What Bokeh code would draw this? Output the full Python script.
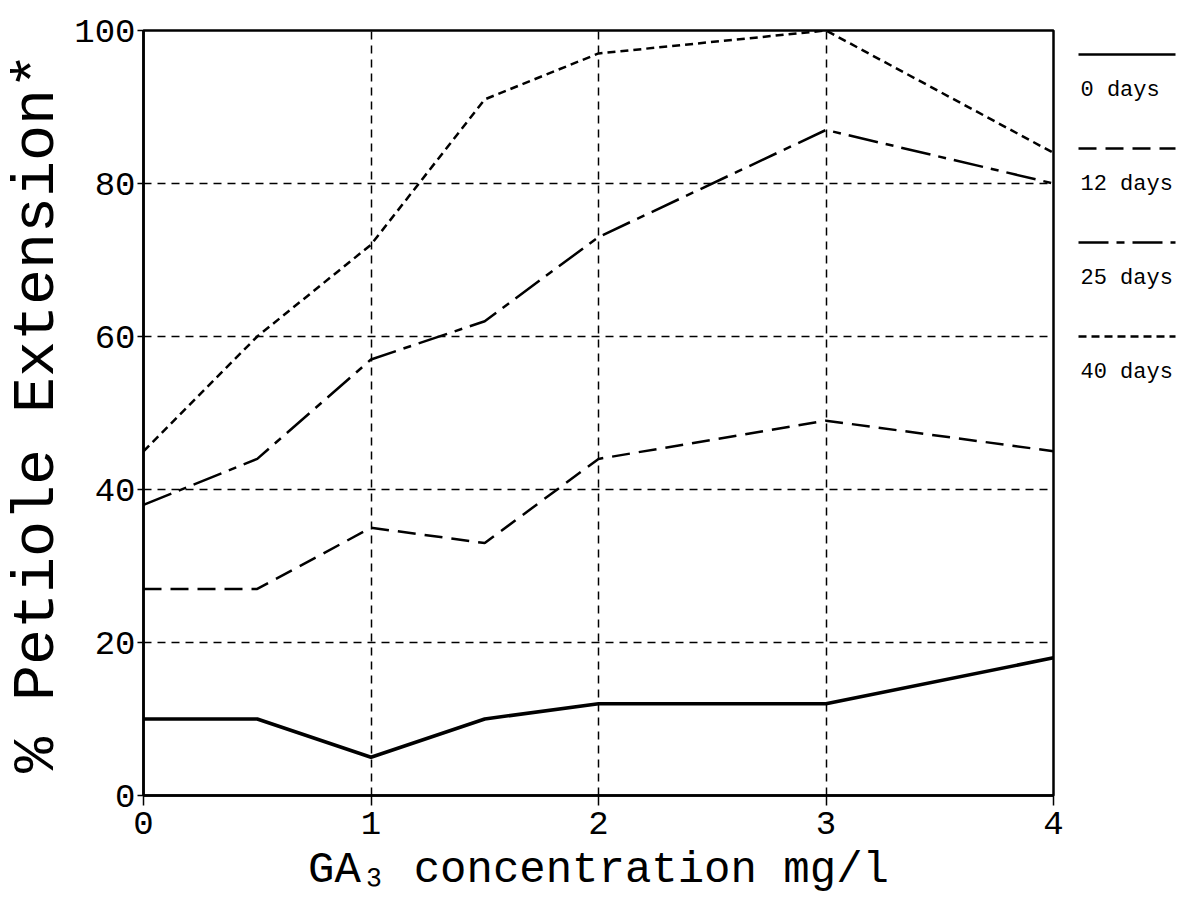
from bokeh.plotting import figure
from bokeh.layouts import row
from bokeh.models import Range1d, FixedTicker
from bokeh.core.properties import value
from bokeh.embed import file_html
from bokeh.resources import INLINE

# ---- data ----
ga3_conc = [0, 0.5, 1, 1.5, 2, 3, 4]
days_0 = [10, 10, 5, 10, 12, 12, 18]
days_12 = [27, 27, 35, 33, 44, 49, 45]
days_25 = [38, 44, 57, 62, 73, 87, 80]
days_40 = [45, 60, 72, 91, 97, 100, 84]
series_labels = ["0 days", "12 days", "25 days", "40 days"]
x_ticks = [0, 1, 2, 3, 4]
y_ticks = [0, 20, 40, 60, 80, 100]

FONT = "Liberation Mono"
styles = [
    dict(line_dash="solid", line_width=3.5),
    dict(line_dash="18 9", line_width=2.5),
    dict(line_dash="30 8 8 8", line_width=2.5),
    dict(line_dash="8 5", line_width=2.5),
]

TOTAL_W, H = 1180, 898
FRAME_L, FRAME_R, FRAME_T, FRAME_B = 142, 1053, 30, 795
MAIN_W = FRAME_R + 14

p = figure(width=MAIN_W, height=H, output_backend="svg", toolbar_location=None,
           x_range=Range1d(0, 4), y_range=Range1d(0, 100),
           min_border_left=FRAME_L, min_border_right=MAIN_W - FRAME_R,
           min_border_top=FRAME_T, min_border_bottom=H - FRAME_B)
p.background_fill_color = "white"
p.border_fill_color = "white"
p.outline_line_color = "black"
p.outline_line_width = 2.5

for ys, st in zip([days_0, days_12, days_25, days_40], styles):
    p.line(ga3_conc, ys, line_color="black", **st)

p.xaxis.ticker = FixedTicker(ticks=x_ticks)
p.yaxis.ticker = FixedTicker(ticks=y_ticks)
for ax in (p.xaxis, p.yaxis):
    ax.axis_line_color = "black"
    ax.axis_line_width = 2.5
    ax.major_tick_line_color = "black"
    ax.major_tick_line_width = 1.5
    ax.major_tick_in = 0
    ax.minor_tick_line_color = None
    ax.major_label_text_font = FONT
    ax.major_label_text_font_size = "34px"
    ax.major_label_text_color = "black"
    ax.axis_label_text_font = FONT
    ax.axis_label_text_font_style = "normal"
    ax.axis_label_text_color = "black"

p.xaxis.major_tick_out = 10
p.xaxis.major_label_standoff = 6
p.xaxis.axis_label_standoff = 8
p.yaxis.major_tick_out = 6
p.yaxis.major_label_standoff = 2
p.yaxis.axis_label_standoff = 0

p.xaxis.axis_label = "GA\u2083 concentration mg/l"
p.xaxis.axis_label_text_font_size = "44px"
p.yaxis.axis_label = "% Petiole Extension*"
p.yaxis.axis_label_text_font_size = "60px"

for g in (p.xgrid, p.ygrid):
    g.grid_line_color = "black"
    g.grid_line_width = 1.5
    g.grid_line_dash = "8 6"
p.xgrid.ticker = FixedTicker(ticks=x_ticks)
p.ygrid.ticker = FixedTicker(ticks=y_ticks)

# ---- legend panel on the right (frame aligned with main frame) ----
LW = TOTAL_W - MAIN_W
lg = figure(width=LW, height=H, output_backend="svg", toolbar_location=None,
            x_range=Range1d(MAIN_W, TOTAL_W), y_range=Range1d(FRAME_B, FRAME_T),
            x_axis_location=None, y_axis_location=None,
            min_border_left=0, min_border_right=0,
            min_border_top=FRAME_T, min_border_bottom=H - FRAME_B)
lg.outline_line_color = None
lg.xgrid.visible = False
lg.ygrid.visible = False
lg.background_fill_color = "white"
lg.border_fill_color = "white"

for i, (lab, st) in enumerate(zip(series_labels, styles)):
    y0 = 54 + 94 * i
    lg.line([1078, 1175], [y0, y0], line_color="black",
            line_dash=st["line_dash"], line_width=2.5)
    lg.text([1080], [y0 + 36], text=[lab], text_font=value(FONT),
            text_font_size="22px", text_baseline="middle", text_align="left",
            text_color="black")

layout = row(p, lg, spacing=0)
open("out.html", "w").write(file_html(layout, INLINE))
